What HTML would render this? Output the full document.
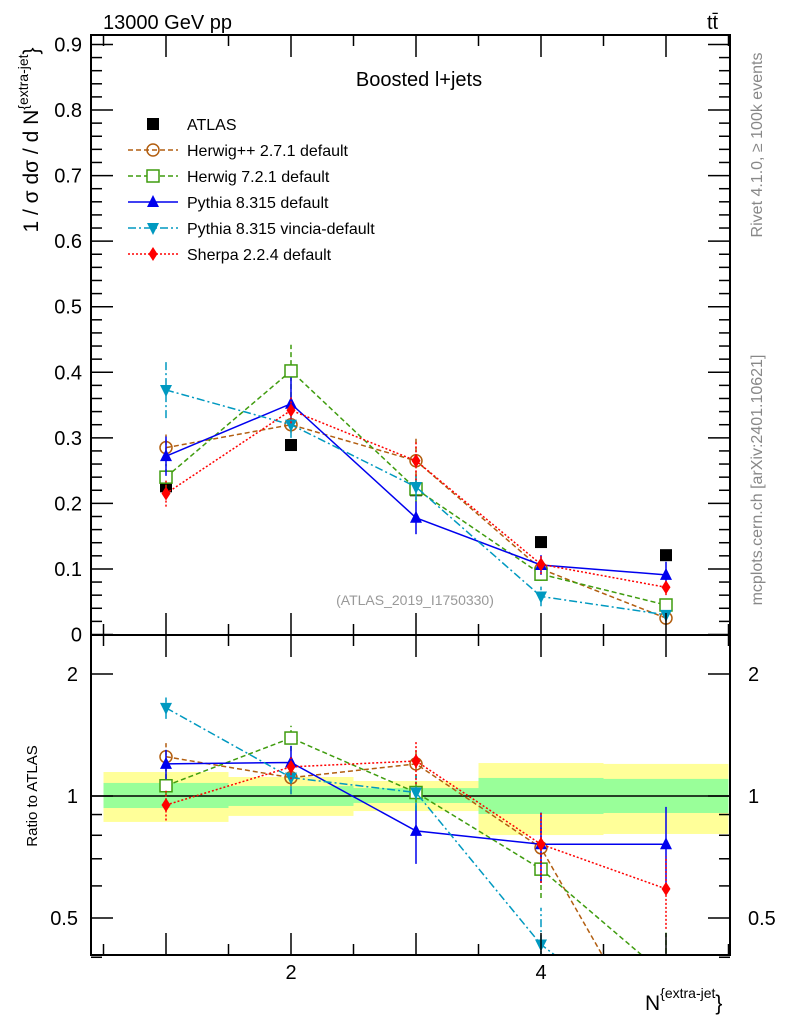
<!DOCTYPE html>
<html><head><meta charset="utf-8"><style>
html,body{margin:0;padding:0;background:#fff;overflow:hidden;width:786px;height:1024px}
svg{display:block;font-family:"Liberation Sans",sans-serif}
</style></head><body>
<svg id="c" width="786" height="1024" viewBox="0 0 786 1024" xmlns="http://www.w3.org/2000/svg">
<g id="bands"></g>
<g id="marks"></g>
<g id="axes"></g>
<text x="103" y="29" font-size="20">13000 GeV pp</text>
<text x="707" y="29" font-size="20">tt̄</text>
<text x="419" y="86" font-size="20" text-anchor="middle">Boosted l+jets</text>
<text x="415" y="605" font-size="14" fill="#999" text-anchor="middle">(ATLAS_2019_I1750330)</text>
<text transform="translate(762,145) rotate(-90)" font-size="16" fill="#888" text-anchor="middle">Rivet 4.1.0, ≥ 100k events</text>
<text transform="translate(762,480) rotate(-90)" font-size="16" fill="#888" text-anchor="middle">mcplots.cern.ch [arXiv:2401.10621]</text>
<text transform="translate(38,140) rotate(-90)" font-size="21" text-anchor="middle">1 / σ dσ / d N<tspan font-size="14" dy="-10">{extra-jet</tspan><tspan font-size="21" dy="10">}</tspan></text>
<text transform="translate(37,796) rotate(-90)" font-size="15" text-anchor="middle">Ratio to ATLAS</text>
<text x="645" y="1010" font-size="21">N<tspan font-size="14" dy="-12">{extra-jet</tspan><tspan font-size="21" dy="12">}</tspan></text>
<g id="legend"></g>
</svg>
<script>
const xVals=[1,2,3,4,5];
const atlas=[0.226,0.289,0.220,0.141,0.121];
const herwigpp=[0.285,0.320,0.265,0.100,0.025];
const herwig7=[0.240,0.402,0.222,0.092,0.045];
const pythia=[0.272,0.352,0.178,0.106,0.091];
const vincia=[0.373,0.320,0.225,0.058,0.030];
const sherpa=[0.215,0.342,0.265,0.107,0.072];
const errHpp=[0.02,0.012,0.035,0.01,0.005];
const errH7=[0.02,0.04,0.02,0.01,0.008];
const errPy=[0.03,0.04,0.025,0.015,0.02];
const errVi=[0.043,0.02,0.02,0.015,0.006];
const errSh=[0.02,0.02,0.03,0.015,0.012];
const rHpp=[1.25,1.11,1.2,0.745,0.215];
const rH7=[1.06,1.39,1.02,0.66,0.36];
const rPy=[1.2,1.21,0.82,0.76,0.76];
const rVi=[1.65,1.11,1.02,0.43,0.25];
const rSh=[0.95,1.18,1.22,0.76,0.59];
const rErrPy=[0.1,0.12,0.14,0.15,0.18];
const rErrSh=[0.08,0.08,0.15,0.15,0.12];
const bandYLo=[0.863,0.893,0.918,0.801,0.806];
const bandYHi=[1.146,1.114,1.089,1.206,1.2];
const bandGLo=[0.934,0.945,0.961,0.903,0.908];
const bandGHi=[1.077,1.058,1.046,1.108,1.102];
const yTicks=[0,0.1,0.2,0.3,0.4,0.5,0.6,0.7,0.8,0.9];
const rTicks=[0.5,1,2];
const xTicks=[2,4];

const NS="http://www.w3.org/2000/svg";
const L=91,R=730,T=35,M=635,B=955;
const X=v=>166+125*(v-1);
const Y=v=>634.5-655.6*v;
const RY=r=>796-122*Math.log2(r);
function el(tag,attrs,parent){const e=document.createElementNS(NS,tag);for(const k in attrs)e.setAttribute(k,attrs[k]);parent.appendChild(e);return e;}
const svg=document.getElementById('c');
const clipDefs=el('defs',{},svg);
const cp1=el('clipPath',{id:'cm'},clipDefs);el('rect',{x:L,y:T,width:R-L,height:M-T},cp1);
const cp2=el('clipPath',{id:'cr'},clipDefs);el('rect',{x:L,y:M,width:R-L,height:B-M},cp2);

const bands=document.getElementById('bands');
xVals.forEach((x,i)=>{
 const x0=X(x-0.5),w=125;
 const yb=el('rect',{x:x0,y:RY(bandYHi[i]),width:w,height:RY(bandYLo[i])-RY(bandYHi[i]),fill:'#ffff99'},bands);
 
 
 const gb=el('rect',{x:x0,y:RY(bandGHi[i]),width:w,height:RY(bandGLo[i])-RY(bandGHi[i]),fill:'#99ff99'},bands);
 
 
});
const one=el('line',{x1:L,x2:R,y1:RY(1),y2:RY(1),stroke:'#000','stroke-width':1.5},bands);



function marker(type,color,x,y,g){
 let m;
 if(type==='sq')m=el('rect',{x:x-6,y:y-6,width:12,height:12,fill:'#000'},g);
 else if(type==='osq')m=el('rect',{x:x-6,y:y-6,width:12,height:12,fill:'#fff',stroke:color,'stroke-width':1.5},g);
 else if(type==='oc')m=el('circle',{cx:x,cy:y,r:6,fill:'none',stroke:color,'stroke-width':1.5},g);
 else if(type==='tu')m=el('polygon',{points:`${x},${y-7} ${x-6},${y+5} ${x+6},${y+5}`,fill:color},g);
 else if(type==='td')m=el('polygon',{points:`${x},${y+7} ${x-6},${y-5} ${x+6},${y-5}`,fill:color},g);
 else if(type==='d')m=el('polygon',{points:`${x},${y-7} ${x-4.5},${y} ${x},${y+7} ${x+4.5},${y}`,fill:color},g);
 return m;
}
const series=[
 {name:'herwigpp',label:'Herwig++ 2.7.1 default',color:'#b25e10',dash:'5,3',mk:'oc',v:herwigpp,e:errHpp,r:rHpp},
 {name:'herwig7',label:'Herwig 7.2.1 default',color:'#3f9c0e',dash:'5,3',mk:'osq',v:herwig7,e:errH7,r:rH7},
 {name:'pythia',label:'Pythia 8.315 default',color:'#0000ee',dash:'',mk:'tu',v:pythia,e:errPy,r:rPy},
 {name:'vincia',label:'Pythia 8.315 vincia-default',color:'#0099c0',dash:'8,3,2,3',mk:'td',v:vincia,e:errVi,r:rVi},
 {name:'sherpa',label:'Sherpa 2.2.4 default',color:'#ff0000',dash:'2,2',mk:'d',v:sherpa,e:errSh,r:rSh}
];
const marks=document.getElementById('marks');
const ga=el('g',{'clip-path':'url(#cm)'},marks);


xVals.forEach((x,i)=>{const m=marker('sq','#000',X(x),Y(atlas[i]),ga);
 
 });
series.forEach(s=>{
 const g=el('g',{'clip-path':'url(#cm)'},marks);
 
 
 el('polyline',{points:xVals.map((x,i)=>X(x)+','+Y(s.v[i])).join(' '),fill:'none',stroke:s.color,'stroke-width':1.5,'stroke-dasharray':s.dash},g);
 xVals.forEach((x,i)=>{
  el('line',{x1:X(x),x2:X(x),y1:Y(s.v[i]-s.e[i]),y2:Y(s.v[i]+s.e[i]),stroke:s.color,'stroke-width':1.5,'stroke-dasharray':s.dash},g);
  const m=marker(s.mk,s.color,X(x),Y(s.v[i]),g);
  
  
 });
 const gr=el('g',{'clip-path':'url(#cr)'},marks);
 
 
 el('polyline',{points:xVals.map((x,i)=>X(x)+','+RY(s.r[i])).join(' '),fill:'none',stroke:s.color,'stroke-width':1.5,'stroke-dasharray':s.dash},gr);
 xVals.forEach((x,i)=>{
  const re=s.name==='pythia'?rErrPy[i]:s.name==='sherpa'?rErrSh[i]:0.1;
  el('line',{x1:X(x),x2:X(x),y1:RY(s.r[i]-re),y2:RY(s.r[i]+re),stroke:s.color,'stroke-width':1.5,'stroke-dasharray':s.dash},gr);
  const m=marker(s.mk,s.color,X(x),RY(s.r[i]),gr);
  
  
 });
});

const lg=document.getElementById('legend');
let ly=124;
{const m=marker('sq','#000',153,ly,lg);
 const t=el('text',{x:187,y:ly+6,'font-size':16},lg);t.textContent='ATLAS';
 }
series.forEach((s,k)=>{
 const y=150+26*k;
 el('line',{x1:128,x2:178,y1:y,y2:y,stroke:s.color,'stroke-width':1.5,'stroke-dasharray':s.dash},lg);
 const m=marker(s.mk,s.color,153,y,lg);
 
 
 const t=el('text',{x:187,y:y+6,'font-size':16},lg);t.textContent=s.label;
 
 
});

const ax=document.getElementById('axes');
el('rect',{x:L,y:T,width:R-L,height:B-T,fill:'none',stroke:'#000','stroke-width':2},ax);
el('line',{x1:L,x2:R,y1:M,y2:M,stroke:'#000','stroke-width':2},ax);
for(let v=0;v<=0.9001;v+=0.02){
 const major=Math.abs(v*10-Math.round(v*10))<1e-6;
 const len=major?22:11;
 el('line',{x1:L,x2:L+len,y1:Y(v),y2:Y(v),stroke:'#000','stroke-width':1.5},ax);
 el('line',{x1:R,x2:R-len,y1:Y(v),y2:Y(v),stroke:'#000','stroke-width':1.5},ax);
}
yTicks.forEach(v=>{const t=el('text',{x:82,y:Y(v)+7,'font-size':20,'text-anchor':'end'},ax);t.textContent=v===0?'0':v.toFixed(1);
 });
[0.4,0.5,0.6,0.7,0.8,0.9,1,2].forEach(r=>{
 const major=r===0.5||r===1||r===2;const len=major?22:11;
 el('line',{x1:L,x2:L+len,y1:RY(r),y2:RY(r),stroke:'#000','stroke-width':1.5},ax);
 el('line',{x1:R,x2:R-len,y1:RY(r),y2:RY(r),stroke:'#000','stroke-width':1.5},ax);
});
rTicks.forEach(r=>{
 const t=el('text',{x:78,y:RY(r)+7,'font-size':20,'text-anchor':'end'},ax);t.textContent=String(r);
 
 const t2=el('text',{x:748,y:RY(r)+7,'font-size':20},ax);t2.textContent=String(r);
 
});
for(let x=0.5;x<=5.51;x+=0.5){
 const major=Math.abs(x-Math.round(x))<1e-6;const len=major?22:11;
 [[T,1],[M,-1],[M,1],[B,-1]].forEach(([y0,d])=>el('line',{x1:X(x),x2:X(x),y1:y0,y2:y0+d*len,stroke:'#000','stroke-width':1.5},ax));
}
xTicks.forEach(x=>{const t=el('text',{x:X(x),y:979,'font-size':20,'text-anchor':'middle'},ax);t.textContent=String(x);
 });
</script>
</body></html>
